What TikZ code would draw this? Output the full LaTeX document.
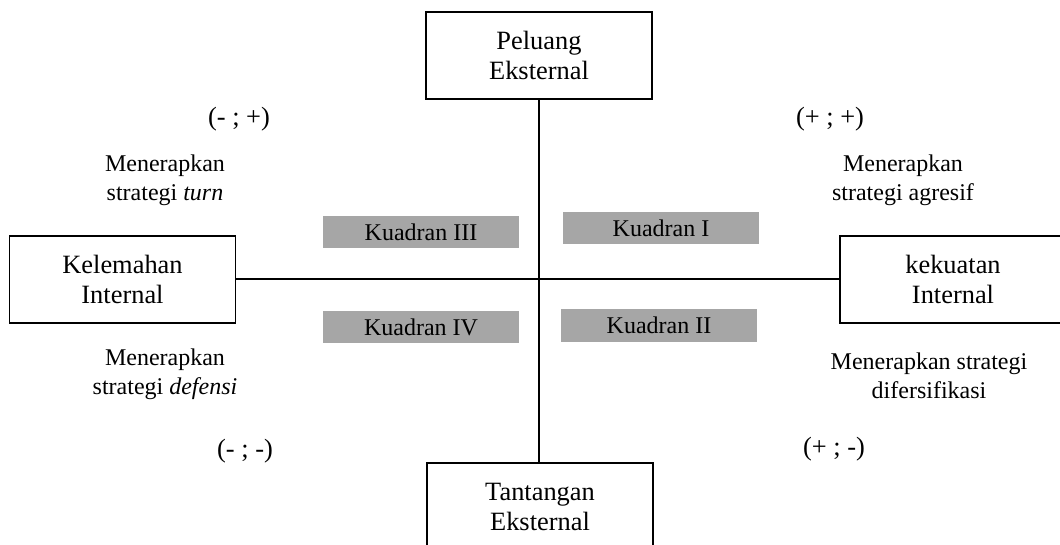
\documentclass[tikz,border=0pt]{standalone}
\usepackage{fontspec}
\setmainfont{Liberation Serif}
\definecolor{quadgray}{HTML}{A6A6A6}
\begin{document}
\begin{tikzpicture}[x=0.5pt,y=-0.5pt,
  every node/.style={font=\fontsize{12}{14.5}\selectfont, align=center},
  bigbox/.style={draw, line width=0.55pt, minimum width=113pt, minimum height=43.5pt, inner sep=0pt, font=\fontsize{13.2}{15}\selectfont},
  quad/.style={fill=quadgray, minimum width=98pt, minimum height=16pt, inner sep=0pt},
  axis/.style={line width=1.1pt},
  lbl/.style={inner sep=0pt},
  sign/.style={inner sep=0pt, font=\fontsize{13.2}{15}\selectfont}]
\clip (0,0) rectangle (1060,545);
\fill[white] (0,0) rectangle (1060,545);
% main boxes
\node[bigbox] (top) at (539,55.5) {Peluang\\Eksternal};
\node[bigbox] (left) at (122.5,279.5) {Kelemahan\\Internal};
\node[bigbox] (right) at (953,279.5) {kekuatan\\Internal};
\node[bigbox] (bottom) at (540,506.5) {Tantangan\\Eksternal};
% axes
\draw[axis] (top.south) -- (bottom.north -| top.south);
\draw[axis] (left.east |- 0,279) -- (right.west |- 0,279);
% quadrant labels
\node[quad] (q3) at (421,232) {Kuadran III};
\node[quad] (q1) at (661,228.5) {Kuadran I};
\node[quad] (q4) at (421,327) {Kuadran IV};
\node[quad] (q2) at (659,325.5) {Kuadran II};
% signs
\node[sign] (s1) at (239,119) {(- ; +)};
\node[sign] (s2) at (830,119) {(+ ; +)};
\node[sign] (s3) at (245,451) {(- ; -)};
\node[sign] (s4) at (834,449) {(+ ; -)};
% strategies
\node[lbl] (t1) at (165,180) {Menerapkan\\strategi \textit{turn}};
\node[lbl] (t2) at (903,180) {Menerapkan\\strategi agresif};
\node[lbl] (t3) at (165,374) {Menerapkan\\strategi \textit{defensi}};
\node[lbl] (t4) at (929,376) {Menerapkan strategi\\difersifikasi};
\end{tikzpicture}
\end{document}
